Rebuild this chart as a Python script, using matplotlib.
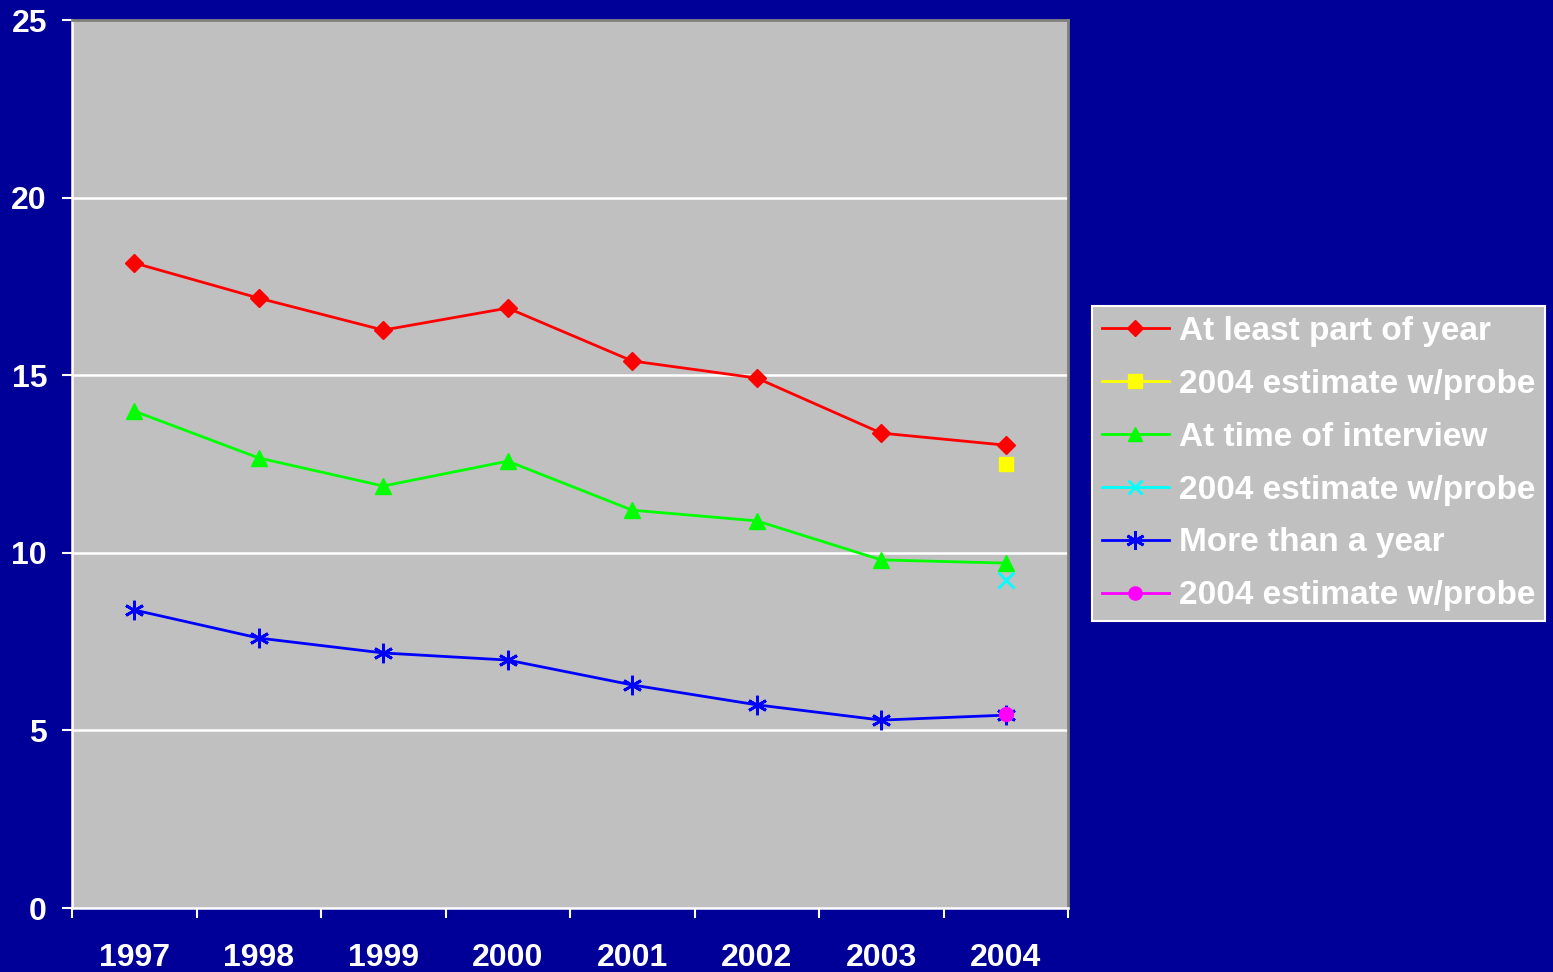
import matplotlib.pyplot as plt
import numpy as np
from matplotlib.lines import Line2D

years = ['1997', '1998', '1999', '2000', '2001', '2002', '2003', '2004']
part_of_year = [18.16, 17.17, 16.27, 16.89, 15.40, 14.92, 13.37, 13.03]
time_of_interview = [13.99, 12.67, 11.88, 12.58, 11.20, 10.90, 9.80, 9.71]
more_than_year = [8.39, 7.60, 7.18, 6.98, 6.28, 5.72, 5.29, 5.43]
est_part = 12.5
est_interview = 9.23
est_more = 5.46

plt.rcParams['font.family'] = ['Liberation Sans', 'DejaVu Sans']
plt.rcParams['font.weight'] = 'bold'

fig = plt.figure(figsize=(15.53, 9.72), dpi=100, facecolor='#000099')
ax = fig.add_axes([72/1553, 64/972, 996/1553, 888/972])
ax.set_facecolor('#C0C0C0')

x = np.arange(len(years))
last = x[-1]

ax.plot(x, part_of_year, color='red', lw=2, marker='D', ms=9, label='At least part of year', zorder=3)
ax.plot([last], [est_part], color='yellow', lw=2, marker='s', ms=10, ls='none', label='2004 estimate w/probe', zorder=3)
ax.plot(x, time_of_interview, color='#00FF00', lw=2, marker='^', ms=11, label='At time of interview', zorder=3)
ax.plot([last], [est_interview], color='cyan', lw=2, marker='x', ms=11, mew=2, ls='none', label='2004 estimate w/probe', zorder=3)
ax.plot(x, more_than_year, color='#0000FF', lw=2, marker=(6, 2, 0), ms=14, mew=2, label='More than a year', zorder=3)
ax.plot([last], [est_more], color='magenta', lw=2, marker='o', ms=10, ls='none', label='2004 estimate w/probe', zorder=4)

ax.set_xlim(-0.5, len(years) - 0.5)
ax.set_ylim(0, 25)
ax.set_yticks(np.arange(0, 26, 5))
ax.set_xticks(np.arange(-0.5, len(years)), [''] * (len(years) + 1))
ax.set_xticks(x, years, minor=True)
ax.tick_params(axis='x', which='major', length=7, width=1.5, color='white', direction='out')
ax.tick_params(axis='x', which='minor', length=0, pad=25, labelsize=23, labelcolor='white')
ax.tick_params(axis='y', length=7, width=1.5, color='white', pad=11, labelsize=23, labelcolor='white')

for yy in [5, 10, 15, 20]:
    ax.axhline(yy, color='white', lw=1.8, zorder=1)

for side in ['left', 'bottom']:
    ax.spines[side].set_color('white')
    ax.spines[side].set_linewidth(1.8)
for side in ['top', 'right']:
    ax.spines[side].set_color('#808080')
    ax.spines[side].set_linewidth(2)

# legend shows line + marker for every entry
handles, labels = ax.get_legend_handles_labels()
leg_handles = []
for h in handles:
    leg_handles.append(Line2D([0], [0], color=h.get_color(), lw=2, marker=h.get_marker(),
                              ms=h.get_markersize() * 0.95, mew=h.get_markeredgewidth()))
leg = fig.legend(leg_handles, labels, loc='upper right', bbox_to_anchor=(1545/1553, 1 - 306/972),
                 fontsize=24, facecolor='#C0C0C0', edgecolor='white', framealpha=1, fancybox=False,
                 handlelength=2.0, handletextpad=0.3, labelspacing=0.655, borderpad=0.3, borderaxespad=0)
leg.get_frame().set_linewidth(1.5)
for t in leg.get_texts():
    t.set_color('white')

fig.savefig('out.png', dpi=100, facecolor=fig.get_facecolor())
